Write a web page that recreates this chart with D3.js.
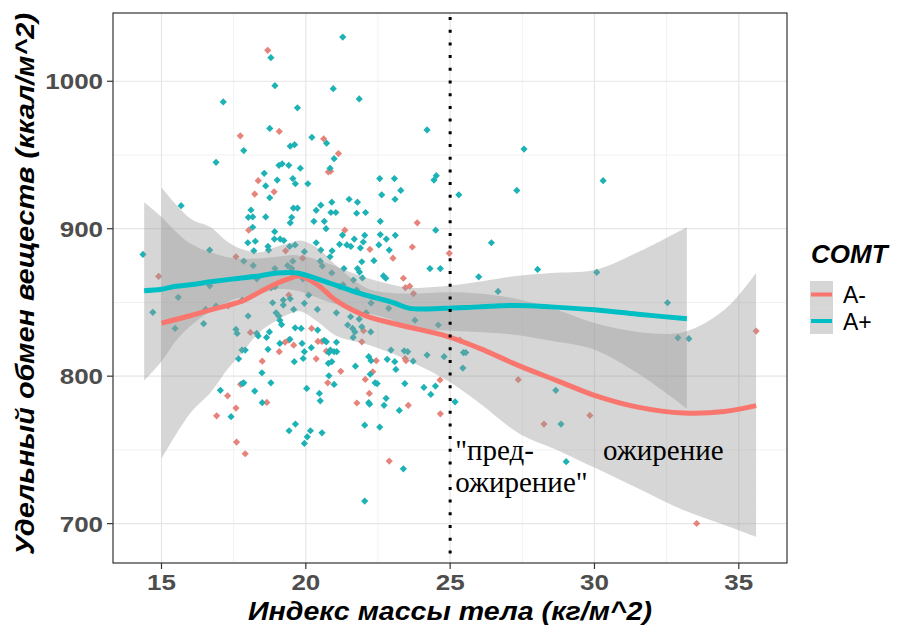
<!DOCTYPE html>
<html>
<head>
<meta charset="utf-8">
<script src="https://cdnjs.cloudflare.com/ajax/libs/d3/7.8.5/d3.min.js"></script>
<style>
  body { margin: 0; background: #fff; }
  svg { display: block; }
</style>
</head>
<body>
<svg id="chart" width="897" height="628"></svg>
<script>
// A- group points (bmi, value)
const redBmi = [18.68,19.08,17.73,20.62,21.13,20.78,20.86,18.35,18.9,18.23,23.86,18.02,21.35,22.22,23.02,23.69,17.58,19.3,19.89,23.38,
  23.45,23.6,24.97,14.9,35.6,27.36,28.25,29.84,33.54,25.34,17.31,18.08,18.49,19.28,19.58,19.41,19.41,20.2,20.36,20.42,
  20.56,20.71,21.21,20.76,22.44,22.32,22.06,23.44,23.47,24.65,23.55,24.66,21.77,22.89,18.65,17.29,17.58,16.91,17.6,17.9,
  17.74,19.08,22.0,21.94,22.2,23.73];
const redVal = [1021,966,963,961,951,938.5,939,932.6,925,923.5,904,899,899,886,880,887.6,881,885,880,866.4,
  860,861,883.3,867.7,830.6,797.6,767.5,773.4,700.1,824.5,847.6,829.7,810.2,823,821,824.5,855,832.4,811.8,823.6,
  823.6,817,803.3,795.5,810.5,803,797.8,812,810.5,797.4,780.2,774.5,781.8,742.4,782.2,786.7,778.4,773.1,755.3,747.4,
  794.5,816.6,830.8,823.3,788.3,856];

// A+ group points (bmi, value)
const blueBmi = [18.79,21.28,18.93,20.95,21.85,17.14,19.71,24.2,18.75,17.85,20.21,20.72,19.46,19.61,20.98,16.89,19.07,19.18,19.41,19.81,
  20.84,18.56,18.61,19.01,19.55,19.64,20.07,18.75,22.56,23.07,22.63,23.09,23.29,24.44,24.52,25.3,15.68,19.57,19.71,20.36,
  20.52,20.9,21.5,21.79,18.1,18.01,18.16,18.61,19.51,19.46,20.28,20.64,20.7,20.87,21.04,21.76,22.07,22.58,24.5,18.16,
  18.92,18.91,19.11,19.24,19.44,19.63,17.99,18.25,18.2,18.69,18.71,20.36,20.52,20.91,20.84,21.17,21.42,21.56,21.68,21.99,
  21.89,22.04,22.53,22.79,23.1,22.89,16.67,14.36,17.85,18.18,19.95,19.55,19.37,20.5,20.57,21.32,22.36,21.94,21.79,21.86,
  21.96,22.69,22.77,24.3,24.66,16.67,27.56,30.3,27.31,26.43,28.03,30.08,25.99,26.66,32.53,32.89,33.27,25.46,25.54,25.44,
  25.17,28.66,28.84,29.02,14.7,15.58,15.47,16.46,16.53,16.89,17.8,18.0,17.58,17.62,18.3,18.35,18.64,18.74,18.85,18.97,
  19.06,19.22,19.22,19.46,19.58,19.95,20.1,20.4,21.06,19.63,19.84,20.41,18.69,17.79,17.9,17.67,18.48,19.1,19.45,19.6,
  19.87,19.95,19.91,20.19,20.64,20.71,21.06,20.8,20.85,20.98,21.07,20.78,20.9,20.8,20.98,21.72,22.18,22.26,22.23,22.4,
  22.47,22.82,23.08,23.12,23.41,23.53,23.72,24.2,24.79,23.43,24.09,24.33,24.49,23.24,22.78,22.71,22.18,22.21,22.04,22.56,
  23.38,22.04,19.42,19.64,19.95,20.05,20.16,20.56,20.03,20.47,20.5,18.79,17.8,17.85,18.23,18.49,17.04,17.41,19.1,19.16,
  21.55,21.85,21.45,21.62,21.7,21.64,21.94,22.25,22.09,22.87,23.78,24.59,22.95,21.27,22.58,18.93,19.51,22.26,21.18,21.65,
  21.76,18.3,18.8,19.9,20.9,18.93,21.29];
const blueVal = [1016,1030,997,995,988,986,982,967,968,953,962,958,956,957,947.5,945,943,944,943,941,
  941,937.6,929,933,934,930.5,930.5,921,934,934,923,920,926,933,936,923,915.6,914,914,912.5,
  916,918,920,918,912.7,907.7,908,908,907.7,904,905,905,900,911,911,910.5,911,905,899,901,
  898,893,893,892,888,889,890.5,891.5,885,888,885.5,890.5,885.5,885,881,889.4,889,888,893,891,
  887,895.5,889,893,895.5,885.5,885.5,882.6,878,875,884.4,878,875,878,874.7,873,878.3,877.6,873,870.6,
  866.6,868,866.4,873,873,861.3,954,932.6,926,890.5,872.4,870.4,867.4,857.5,849.8,826,825.4,816,816,805.5,
  782.6,790.4,767.5,742,843.3,853.5,832.4,835.6,845.3,847.6,851.6,840.8,831.7,829,829,827.3,826.3,830,849.8,843,
  840.8,848.2,851.6,852.5,845.3,849.4,855,845.3,843,832.8,832.4,831.3,818.2,817.7,817.7,811.8,802.3,822.2,825,809.8,
  822.2,816.6,812,819.3,824.3,823.3,823,816,817.7,816.6,816.6,808.7,809.8,800.3,794.4,806.8,813.2,810.5,801.3,795.5,
  795,811.4,809.8,804.6,817.2,816.6,810.2,814.3,813.2,795,792.4,787.6,793.3,776.8,785,780.2,782,781,766.8,765.5,
  737.2,715.3,763,767.5,754.4,758.9,763,761.6,791.7,788.3,783.3,795.5,795,795.5,789.9,782,790.4,772.5,838,835,
  840.3,838.7,834.7,832.4,830,826.3,833.5,830,843,846,838,834.7,817.7,895.7,896,873,873,849.6,860.7,865.2,
  858.4,866,860,866,870,860.7,862];

// loess fits with confidence bands
const redFitX  = [15.0,16.0,16.7,17.3,17.8,18.4,19.0,19.4,19.8,20.4,21.0,21.6,22.2,23.4,24.9,26.0,27.4,28.7,30.0,31.5,33.1,34.5,35.6];
const redFit   = [836,841,845,848,851,857,863,866,868,862,852,845,840,834,827,819,807,797,787,779,775,776,780];
const redLow   = [744,775,789,805,816,830,838,842,844,837,828,824,821,812,797,782,761,750,738,724,709,699,691];
const redHigh  = [928,907,901,891,886,884,888,890,892,887,876,866,859,856,857,856,852,845,836,830,830,845,870];

const blueFitX = [14.4,15.0,15.5,16.0,16.7,17.5,18.4,19.0,19.7,20.7,21.9,23.0,23.6,24.8,26.0,27.3,28.5,30.0,31.5,33.2];
const blueFit  = [858,859,861,862,864,866,868,870,870,864,856,850,846,846,847,848,847,845,842,839];
const blueHigh = [918,908,898,890,884,880,880,881,882,877,868,862,860,861,864,868,870,872,884,901];
const blueLow  = [797,810,824,834,844,852,856,859,858,851,844,838,832,831,830,828,824,818,802,778];

const xTicks = [15, 20, 25, 30, 35];
const yTicks = [700, 800, 900, 1000];
const xMinor = [17.5, 22.5, 27.5, 32.5];
const yMinor = [750, 850, 950];

const groups = ["A-", "A+"];
const colors = {"A-": "#F8766D", "A+": "#00BFC4"};
const pointColors = {"A-": "#E6837B", "A+": "#1DB2B5"};

const svg = d3.select("#chart");
const panel = {left: 113, top: 13, right: 787, bottom: 563};

const x = d3.scaleLinear().domain([13.32, 36.67]).range([panel.left, panel.right]);
const y = d3.scaleLinear().domain([673.3, 1046.3]).range([panel.bottom, panel.top]);

// grid
const grid = svg.append("g");
grid.selectAll(".xmin").data(xMinor).join("line")
  .attr("x1", d => x(d)).attr("x2", d => x(d))
  .attr("y1", panel.top).attr("y2", panel.bottom)
  .attr("stroke", "#F2F2F2").attr("stroke-width", 1);
grid.selectAll(".ymin").data(yMinor).join("line")
  .attr("class", "ymin")
  .attr("y1", d => y(d)).attr("y2", d => y(d))
  .attr("x1", panel.left).attr("x2", panel.right)
  .attr("stroke", "#F2F2F2").attr("stroke-width", 1);
grid.selectAll(".xmaj").data(xTicks).join("line")
  .attr("class", "xmaj")
  .attr("x1", d => x(d)).attr("x2", d => x(d))
  .attr("y1", panel.top).attr("y2", panel.bottom)
  .attr("stroke", "#E6E6E6").attr("stroke-width", 1.2);
grid.selectAll(".ymaj").data(yTicks).join("line")
  .attr("class", "ymaj")
  .attr("y1", d => y(d)).attr("y2", d => y(d))
  .attr("x1", panel.left).attr("x2", panel.right)
  .attr("stroke", "#E6E6E6").attr("stroke-width", 1.2);

// points
const pts = [];
redBmi.forEach((b, i) => pts.push({g: "A-", x: b, y: redVal[i]}));
blueBmi.forEach((b, i) => pts.push({g: "A+", x: b, y: blueVal[i]}));
const diamond = d3.symbol().type(d3.symbolSquare).size(26);
svg.append("g").selectAll("path").data(pts).join("path")
  .attr("d", diamond)
  .attr("transform", d => `translate(${x(d.x)},${y(d.y)}) rotate(45)`)
  .attr("fill", d => pointColors[d.g]);

// bands
const series = [
  {g: "A-", xs: redFitX, fit: redFit, lo: redLow, hi: redHigh},
  {g: "A+", xs: blueFitX, fit: blueFit, lo: blueLow, hi: blueHigh}
];
const area = d3.area().curve(d3.curveCatmullRom)
  .x(d => x(d.x)).y0(d => y(d.lo)).y1(d => y(d.hi));
const line = d3.line().curve(d3.curveCatmullRom)
  .x(d => x(d.x)).y(d => y(d.fit));

series.forEach(s => {
  const rows = s.xs.map((v, i) => ({x: v, fit: s.fit[i], lo: s.lo[i], hi: s.hi[i]}));
  svg.append("path").datum(rows)
    .attr("d", area)
    .attr("fill", "#999999").attr("fill-opacity", 0.4);
  s.rows = rows;
});
series.forEach(s => {
  svg.append("path").datum(s.rows)
    .attr("d", line)
    .attr("fill", "none")
    .attr("stroke", colors[s.g])
    .attr("stroke-width", 5)
    .attr("stroke-linecap", "butt");
});

// dotted reference line at 25
svg.append("line")
  .attr("x1", x(25)).attr("x2", x(25))
  .attr("y1", panel.top + 4).attr("y2", panel.bottom)
  .attr("stroke", "#000").attr("stroke-width", 3)
  .attr("stroke-dasharray", "3 9.7");

// annotations
const ann = svg.append("g")
  .attr("font-family", "'Liberation Serif', 'Times New Roman', serif")
  .attr("font-size", 29).attr("fill", "#000");
ann.append("text").attr("x", x(25) + 5).attr("y", 460).text("\"пред-");
ann.append("text").attr("x", x(25) + 5).attr("y", 492).text("ожирение\"");
ann.append("text").attr("x", 603).attr("y", 460).text("ожирение");

// panel border
svg.append("rect")
  .attr("x", panel.left).attr("y", panel.top)
  .attr("width", panel.right - panel.left).attr("height", panel.bottom - panel.top)
  .attr("fill", "none").attr("stroke", "#333").attr("stroke-width", 1.2);

// axes ticks and labels
const axes = svg.append("g");
axes.selectAll(".xt").data(xTicks).join("line")
  .attr("x1", d => x(d)).attr("x2", d => x(d))
  .attr("y1", panel.bottom).attr("y2", panel.bottom + 6)
  .attr("stroke", "#333").attr("stroke-width", 1.2);
axes.selectAll(".yt").data(yTicks).join("line")
  .attr("class", "yt")
  .attr("y1", d => y(d)).attr("y2", d => y(d))
  .attr("x1", panel.left - 6).attr("x2", panel.left)
  .attr("stroke", "#333").attr("stroke-width", 1.2);

const tickFont = "'Liberation Sans', Arial, sans-serif";
axes.selectAll(".xl").data(xTicks).join("text")
  .attr("class", "xl")
  .attr("transform", d => `translate(${x(d)},590) scale(1.18,1)`)
  .attr("text-anchor", "middle")
  .attr("font-family", tickFont).attr("font-weight", "bold")
  .attr("font-size", 22).attr("fill", "#4D4D4D")
  .text(d => d);
axes.selectAll(".yl").data(yTicks).join("text")
  .attr("class", "yl")
  .attr("transform", d => `translate(103,${y(d) + 8}) scale(1.18,1)`)
  .attr("text-anchor", "end")
  .attr("font-family", tickFont).attr("font-weight", "bold")
  .attr("font-size", 22).attr("fill", "#4D4D4D")
  .text(d => d);

// axis titles
svg.append("text")
  .attr("x", 248).attr("y", 620)
  .attr("textLength", 404).attr("lengthAdjust", "spacingAndGlyphs")
  .attr("font-family", tickFont).attr("font-weight", "bold").attr("font-style", "italic")
  .attr("font-size", 25).attr("fill", "#000")
  .text("Индекс массы тела (кг/м^2)");
svg.append("text")
  .attr("transform", "translate(34,555) rotate(-90)")
  .attr("textLength", 542).attr("lengthAdjust", "spacingAndGlyphs")
  .attr("font-family", tickFont).attr("font-weight", "bold").attr("font-style", "italic")
  .attr("font-size", 25).attr("fill", "#000")
  .text("Удельный обмен веществ (ккал/м^2)");

// legend
const leg = svg.append("g").attr("font-family", tickFont);
leg.append("text").attr("x", 811).attr("y", 263)
  .attr("font-weight", "bold").attr("font-style", "italic")
  .attr("font-size", 26).attr("fill", "#000").text("COMT");
groups.forEach((g, i) => {
  const ky = 281 + i * 26.5;
  leg.append("rect").attr("x", 810).attr("y", ky).attr("width", 23).attr("height", 26.5)
    .attr("fill", "#999999").attr("fill-opacity", 0.4);
  leg.append("line").attr("x1", 811).attr("x2", 832)
    .attr("y1", ky + 13.5).attr("y2", ky + 13.5)
    .attr("stroke", colors[g]).attr("stroke-width", 4);
  leg.append("text").attr("x", 843).attr("y", ky + 22)
    .attr("font-size", 23).attr("fill", "#000").text(g);
});
</script>
</body>
</html>
